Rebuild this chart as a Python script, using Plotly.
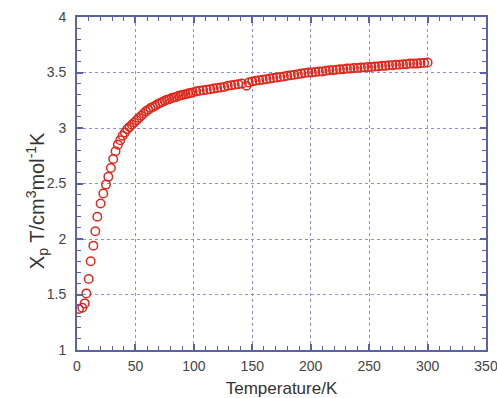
import plotly.graph_objects as go

temperature = [1.7, 4.5, 6.6, 8.0, 10.0, 11.7, 14.0, 15.7, 17.4, 20.2, 22.5, 24.8, 26.8, 29.0,
               31, 33, 35, 37, 39, 41, 43, 45, 47, 49, 51, 53, 55, 57, 59, 61, 63, 65, 67, 69,
               71, 73, 75, 77, 79, 81, 83, 85, 87, 89, 91, 93, 95, 97, 99,
               102, 105, 108, 111, 114, 117, 120, 123, 126, 129, 132, 135, 138, 141, 145, 147,
               150, 153, 156, 159, 162, 165, 168, 171, 174, 177, 180, 183, 186, 189, 192, 195,
               198, 201, 204, 207, 210, 213, 216, 219, 222, 225, 228, 231, 234, 237, 240, 243,
               246, 249, 252, 255, 258, 261, 264, 267, 270, 273, 276, 279, 282, 285, 288, 291,
               294, 297, 300]
chi_t = [1.37, 1.38, 1.42, 1.51, 1.64, 1.80, 1.94, 2.07, 2.20, 2.32, 2.41, 2.49, 2.56, 2.64,
         2.72, 2.79, 2.85, 2.89, 2.93, 2.96, 2.99, 3.01, 3.03, 3.05, 3.07, 3.09, 3.11, 3.13, 3.15,
         3.165, 3.18, 3.19, 3.20, 3.215,
         3.225, 3.235, 3.245, 3.255, 3.26, 3.27, 3.275, 3.28, 3.29, 3.295, 3.30, 3.305, 3.31,
         3.315, 3.32,
         3.33, 3.335, 3.34, 3.345, 3.35, 3.355, 3.36, 3.365, 3.37, 3.38, 3.385, 3.39, 3.395,
         3.40, 3.38, 3.41,
         3.42, 3.425, 3.43, 3.435, 3.44, 3.445, 3.45, 3.455, 3.46, 3.465, 3.47, 3.475, 3.48,
         3.485, 3.49, 3.495,
         3.50, 3.50, 3.505, 3.51, 3.51, 3.515, 3.52, 3.52, 3.525, 3.53, 3.53, 3.535, 3.535,
         3.54, 3.54, 3.545,
         3.545, 3.55, 3.55, 3.555, 3.555, 3.56, 3.56, 3.565, 3.565, 3.57, 3.57, 3.575, 3.575,
         3.58, 3.58, 3.58,
         3.585, 3.585, 3.59]

x_ticks = [0, 50, 100, 150, 200, 250, 300, 350]
y_ticks = [1, 1.5, 2, 2.5, 3, 3.5, 4]

axis_color = "#5a5fb0"
grid_color = "#8a8fd8"
font = "Liberation Sans, Arial, Helvetica, sans-serif"

fig = go.Figure()
fig.add_trace(go.Scatter(
    x=temperature, y=chi_t, mode="markers",
    marker=dict(symbol="circle-open", size=8.5, color="#e0281c", line=dict(width=1.5, color="#e0281c")),
    showlegend=False,
))

common = dict(
    showline=True, linecolor=axis_color, linewidth=2, mirror="allticks",
    ticks="inside", ticklen=6, tickwidth=1.5, tickcolor=axis_color,
    showgrid=True, gridcolor=grid_color, griddash="dot", gridwidth=1,
    zeroline=False, automargin=False, ticklabeloverflow="allow",
    tickfont=dict(family=font, size=14, color="#444444"),
)

fig.update_xaxes(
    range=[0, 350], tickvals=x_ticks, ticktext=[str(v) for v in x_ticks],
    minor=dict(dtick=10, ticks="inside", ticklen=4, tickcolor=axis_color, tickwidth=1.2, showgrid=False),
    title_text="Temperature/K", title_standoff=14, ticklabelstandoff=2,
    title_font=dict(family=font, size=17, color="#333333"),
    **common,
)
fig.update_yaxes(
    range=[1, 4], tickvals=y_ticks, ticktext=[f"{v:g}" for v in y_ticks],
    minor=dict(dtick=0.1, ticks="inside", ticklen=4, tickcolor=axis_color, tickwidth=1.2, showgrid=False),
    ticklabelstandoff=6,
    **common,
)

fig.add_annotation(
    text="X<sub>p</sub> T/cm<sup>3</sup>mol<sup>-1</sup>K",
    xref="paper", yref="paper", x=0, y=0.447, xshift=-40,
    xanchor="center", yanchor="middle", textangle=-90, showarrow=False,
    font=dict(family=font, size=20, color="#333333"),
)

fig.update_layout(
    width=497, height=398,
    margin=dict(l=77, r=11, t=17, b=48),
    plot_bgcolor="white", paper_bgcolor="white",
)

fig.write_html("out.html", config={"displayModeBar": False},
               post_script="document.body.style.margin='0';")
